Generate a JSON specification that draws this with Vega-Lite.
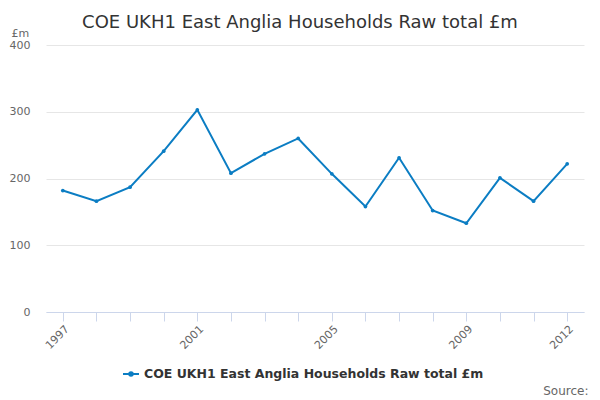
{
  "$schema": "https://vega.github.io/schema/vega-lite/v6.json",
  "autosize": {"type": "none"},
  "width": 538,
  "height": 267,
  "padding": {"left": 46, "top": 45, "right": 16, "bottom": 88},
  "background": "white",
  "config": {
    "font": "DejaVu Sans",
    "view": {"stroke": null}
  },
  "title": {
    "text": "COE UKH1 East Anglia Households Raw total £m",
    "fontSize": 18,
    "fontWeight": "normal",
    "color": "#333333",
    "anchor": "middle",
    "dx": -15,
    "offset": -5
  },
  "data": {
    "values": [
      {"year": "1997", "value": 182, "series": "COE UKH1 East Anglia Households Raw total £m"},
      {"year": "1998", "value": 166, "series": "COE UKH1 East Anglia Households Raw total £m"},
      {"year": "1999", "value": 187, "series": "COE UKH1 East Anglia Households Raw total £m"},
      {"year": "2000", "value": 241, "series": "COE UKH1 East Anglia Households Raw total £m"},
      {"year": "2001", "value": 303, "series": "COE UKH1 East Anglia Households Raw total £m"},
      {"year": "2002", "value": 208, "series": "COE UKH1 East Anglia Households Raw total £m"},
      {"year": "2003", "value": 237, "series": "COE UKH1 East Anglia Households Raw total £m"},
      {"year": "2004", "value": 260, "series": "COE UKH1 East Anglia Households Raw total £m"},
      {"year": "2005", "value": 207, "series": "COE UKH1 East Anglia Households Raw total £m"},
      {"year": "2006", "value": 158, "series": "COE UKH1 East Anglia Households Raw total £m"},
      {"year": "2007", "value": 231, "series": "COE UKH1 East Anglia Households Raw total £m"},
      {"year": "2008", "value": 152, "series": "COE UKH1 East Anglia Households Raw total £m"},
      {"year": "2009", "value": 133, "series": "COE UKH1 East Anglia Households Raw total £m"},
      {"year": "2010", "value": 201, "series": "COE UKH1 East Anglia Households Raw total £m"},
      {"year": "2011", "value": 166, "series": "COE UKH1 East Anglia Households Raw total £m"},
      {"year": "2012", "value": 222, "series": "COE UKH1 East Anglia Households Raw total £m"}
    ]
  },
  "mark": {
    "type": "line",
    "strokeWidth": 2,
    "point": {"size": 14, "filled": true, "color": "#0b7dc3"}
  },
  "encoding": {
    "x": {
      "field": "year",
      "type": "ordinal",
      "scale": {"type": "point", "padding": 0.5},
      "axis": {
        "title": "Source:",
        "titleFontSize": 12,
        "titleFontWeight": "normal",
        "titleColor": "#666666",
        "titleAlign": "right",
        "titleBaseline": "middle",
        "titleX": 542,
        "titleY": 78,
        "labelAngle": -45,
        "labelAlign": "right",
        "labelBaseline": "top",
        "labelFontSize": 11,
        "labelColor": "#666666",
        "labelPadding": 2,
        "labelOverlap": false,
        "labelExpr": "indexof(['1997','2001','2005','2009','2012'], datum.label) >= 0 ? datum.label : ''",
        "domainColor": "#ccd6eb",
        "tickColor": "#ccd6eb",
        "tickSize": 9,
        "grid": false
      }
    },
    "y": {
      "field": "value",
      "type": "quantitative",
      "scale": {"domain": [0, 400]},
      "axis": {
        "values": [0, 100, 200, 300, 400],
        "title": "£m",
        "titleAngle": 0,
        "titleAlign": "left",
        "titleBaseline": "middle",
        "titleX": -35,
        "titleY": -12,
        "titleFontSize": 11,
        "titleFontWeight": "normal",
        "titleColor": "#666666",
        "labelFontSize": 11,
        "labelColor": "#666666",
        "labelPadding": 16,
        "domain": false,
        "ticks": false,
        "tickSize": 0,
        "gridColor": "#e6e6e6"
      }
    },
    "color": {
      "field": "series",
      "type": "nominal",
      "scale": {"range": ["#0b7dc3"]},
      "legend": {
        "title": null,
        "orient": "none",
        "legendX": 76,
        "legendY": 320,
        "symbolType": "M-1,0H1M-0.22,0A0.22,0.22,0,1,1,0.22,0A0.22,0.22,0,1,1,-0.22,0",
        "symbolSize": 256,
        "symbolStrokeWidth": 2,
        "symbolStrokeColor": "#0b7dc3",
        "symbolFillColor": "#0b7dc3",
        "labelFontSize": 12.5,
        "labelFontWeight": "bold",
        "labelColor": "#333333",
        "labelOffset": 4,
        "labelLimit": 0
      }
    }
  }
}
